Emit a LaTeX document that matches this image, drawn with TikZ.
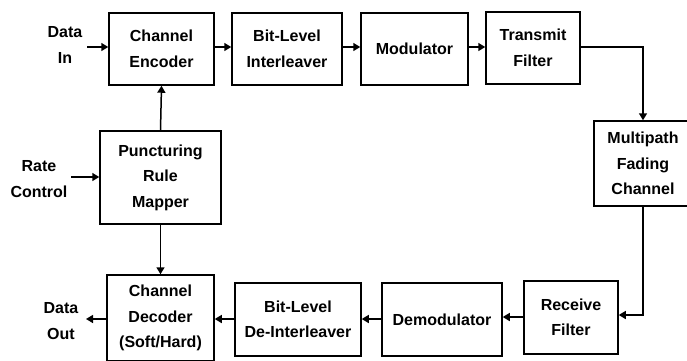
\documentclass[tikz,border=0pt]{standalone}
\usepackage{fontspec}
\setmainfont{Liberation Sans}
\usetikzlibrary{arrows.meta}
\begin{document}
\begin{tikzpicture}[x=1pt,y=-1pt,
  blk/.style={draw, line width=1.5pt, inner sep=0pt, align=center,
    font=\bfseries\fontsize{16}{25.5}\selectfont},
  lbl/.style={inner sep=0pt, align=center,
    font=\bfseries\fontsize{16}{25.5}\selectfont},
  arr/.style={line width=1.5pt, -{Triangle[length=7pt,width=8pt]}}]
\useasboundingbox (0,0) rectangle (687,360);

% transmit chain
\node[blk, minimum width=105, minimum height=72] (enc)   at (161.5,49)  {Channel\\Encoder};
\node[blk, minimum width=110, minimum height=72] (intl)  at (287,49)    {Bit-Level\\Interleaver};
\node[blk, minimum width=107, minimum height=72] (mod)   at (414.5,49)  {Modulator};
\node[blk, minimum width=94,  minimum height=72] (tx)    at (533,48)    {Transmit\\Filter};
\node[blk, minimum width=98,  minimum height=85] (chan)  at (643,163.5) {Multipath\\Fading\\Channel};

% receive chain
\node[blk, minimum width=94,  minimum height=73] (rx)    at (571,317.5) {Receive\\Filter};
\node[blk, minimum width=120, minimum height=73] (demod) at (442,319.5) {Demodulator};
\node[blk, minimum width=126, minimum height=73] (deint) at (298,319.5) {Bit-Level\\De-Interleaver};
\node[blk, minimum width=107, minimum height=86] (dec)   at (160.5,318) {Channel\\Decoder\\(Soft/Hard)};

% rate control
\node[blk, minimum width=121, minimum height=93] (punc)  at (160.5,177.5) {Puncturing\\Rule\\Mapper};

% external labels
\node[lbl] (din)  at (65,45)   {Data\\In};
\node[lbl] (rate) at (39,179)  {Rate\\Control};
\node[lbl] (dout) at (61,321)  {Data\\Out};
\coordinate (dinS)  at (87,47);
\coordinate (rateS) at (71,177);
\coordinate (doutE) at (86,319);

% connectors
\draw[arr] (dinS) -- (dinS -| enc.west);
\draw[arr] (enc.east |- 0,47) -- (intl.west |- 0,47);
\draw[arr] (intl.east |- 0,47) -- (mod.west |- 0,47);
\draw[arr] (mod.east |- 0,47) -- (tx.west |- 0,47);
\draw[arr] (tx.east |- 0,47) -| (chan.north);
\draw[arr] (chan.south) |- (rx.east |- 0,315);
\draw[arr] (rx.west |- 0,317) -- (demod.east |- 0,317);
\draw[arr] (demod.west |- 0,319) -- (deint.east |- 0,319);
\draw[arr] (deint.west |- 0,319) -- (dec.east |- 0,319);
\draw[arr] (dec.west |- 0,319) -- (doutE);
\draw[arr] (rateS) -- (rateS -| punc.west);
\draw[arr] (punc.north) -- (enc.south);
\draw[arr] (punc.south) -- (dec.north);
\end{tikzpicture}
\end{document}
